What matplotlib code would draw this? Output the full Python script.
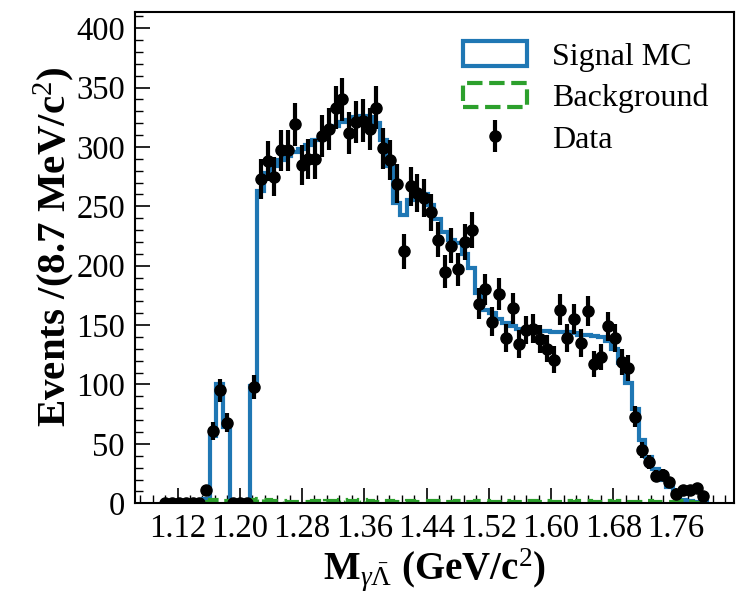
import numpy as np
import matplotlib
matplotlib.use("Agg")
import matplotlib.pyplot as plt
from matplotlib.ticker import MultipleLocator, FormatStrFormatter

plt.rcParams['font.family'] = ['Liberation Serif', 'DejaVu Serif']
plt.rcParams['mathtext.fontset'] = 'custom'
plt.rcParams['mathtext.rm'] = 'Liberation Serif'
plt.rcParams['mathtext.it'] = 'Liberation Serif:italic'
plt.rcParams['mathtext.bf'] = 'Liberation Serif:bold'

# 80 bins of 8.75 MeV between 1.1 and 1.8 GeV
edges = np.linspace(1.1, 1.8, 81)
centers = 0.5 * (edges[1:] + edges[:-1])

data = np.array([
    0, 0, 0, 0, 0, 0, 11, 61, 95, 68,
    0, 0, 0, 98, 273, 288, 275, 297, 297, 319,
    285, 290, 290, 309, 315, 333, 340, 312, 321, 322,
    315, 333, 299, 289, 269, 212, 267, 261, 257, 245,
    222, 195, 217, 197, 220, 230, 168, 180, 153, 176,
    139, 164, 134, 146, 147, 138, 130, 121, 163, 139,
    155, 135, 162, 117, 123, 149, 139, 119, 114, 73,
    45, 35, 23, 24, 18, 8, 11, 11, 13, 6,
])

signal_mc = np.array([
    0, 0, 0, 0, 0, 0, 4, 57, 100, 64,
    0, 0, 0, 99, 263, 278, 284, 289, 292, 296,
    298, 302, 306, 310, 314, 318, 321, 323, 325, 326,
    325, 320, 306, 284, 253, 243, 255, 263, 260, 251,
    239, 228, 222, 219, 210, 198, 177, 163, 160, 155,
    152, 149, 147, 146, 145, 145, 145, 144, 144, 144,
    143, 142, 142, 141, 140, 137, 130, 118, 101, 79,
    53, 39, 29, 20, 14, 7, 3, 2, 1, 1,
])

background = np.array([
    0, 0, 0, 0, 0, 0, 1, 3, 3, 2,
    1, 1, 2, 3, 4, 3, 2, 2, 1, 1,
    1, 1, 2, 1, 2, 2, 3, 2, 2, 3,
    2, 1, 2, 2, 1, 1, 2, 1, 1, 2,
    2, 1, 1, 2, 1, 1, 2, 2, 1, 1,
    2, 1, 1, 2, 2, 1, 2, 1, 1, 2,
    1, 2, 2, 1, 1, 2, 1, 2, 1, 1,
    1, 2, 1, 1, 1, 1, 2, 1, 0, 0,
])

fig = plt.figure(figsize=(7.5, 6), dpi=100)
ax = fig.add_axes([0.1796, 0.1612, 0.7991, 0.8196])

# step histograms (Polygon patches -> rectangle legend handles)
_, _, h_mc = ax.hist(centers, bins=edges, weights=signal_mc, histtype='step',
                     color='#1f77b4', lw=3, label='Signal MC')
_, _, h_bkg = ax.hist(centers, bins=edges, weights=background, histtype='step',
                      color='#2ca02c', lw=3, ls='--', label='Background')
h_data = ax.errorbar(centers, data, yerr=np.sqrt(data), fmt='o', color='k',
                     ms=8, elinewidth=3, capsize=0, label='Data', zorder=5)

ax.set_xlim(1.065, 1.835)
ax.set_ylim(0, 414)

ax.xaxis.set_major_locator(MultipleLocator(0.08))
ax.xaxis.set_minor_locator(MultipleLocator(0.016))
ax.xaxis.set_major_formatter(FormatStrFormatter('%.2f'))
ax.yaxis.set_major_locator(MultipleLocator(50))
ax.yaxis.set_minor_locator(MultipleLocator(10))
ax.tick_params(which='both', direction='in', labelsize=23.5)
ax.tick_params(which='major', length=11, width=1.2)
ax.tick_params(which='minor', length=6, width=1.0)
ax.tick_params(axis='x', pad=7)
ax.tick_params(axis='y', pad=7)
for s in ax.spines.values():
    s.set_linewidth(1.5)

ax.set_xlabel(r'$\mathbf{M}_{\gamma\bar{\Lambda}}$ (GeV/c$^{2}$)',
              fontsize=28, fontweight='bold', labelpad=2)
ax.set_ylabel(r'Events /(8.7 MeV/c$^{2}$)', fontsize=29.5, fontweight='bold')
ax.yaxis.set_label_coords(-0.097, 0.522)

ax.legend([h_mc[0], h_bkg[0], h_data], ['Signal MC', 'Background', 'Data'],
          loc='upper right', bbox_to_anchor=(0.995, 0.985), frameon=False,
          fontsize=23, handlelength=2.0, handleheight=0.8, labelspacing=0.35,
          handletextpad=0.8, borderaxespad=0.3)

fig.savefig('out.png', dpi=100)
